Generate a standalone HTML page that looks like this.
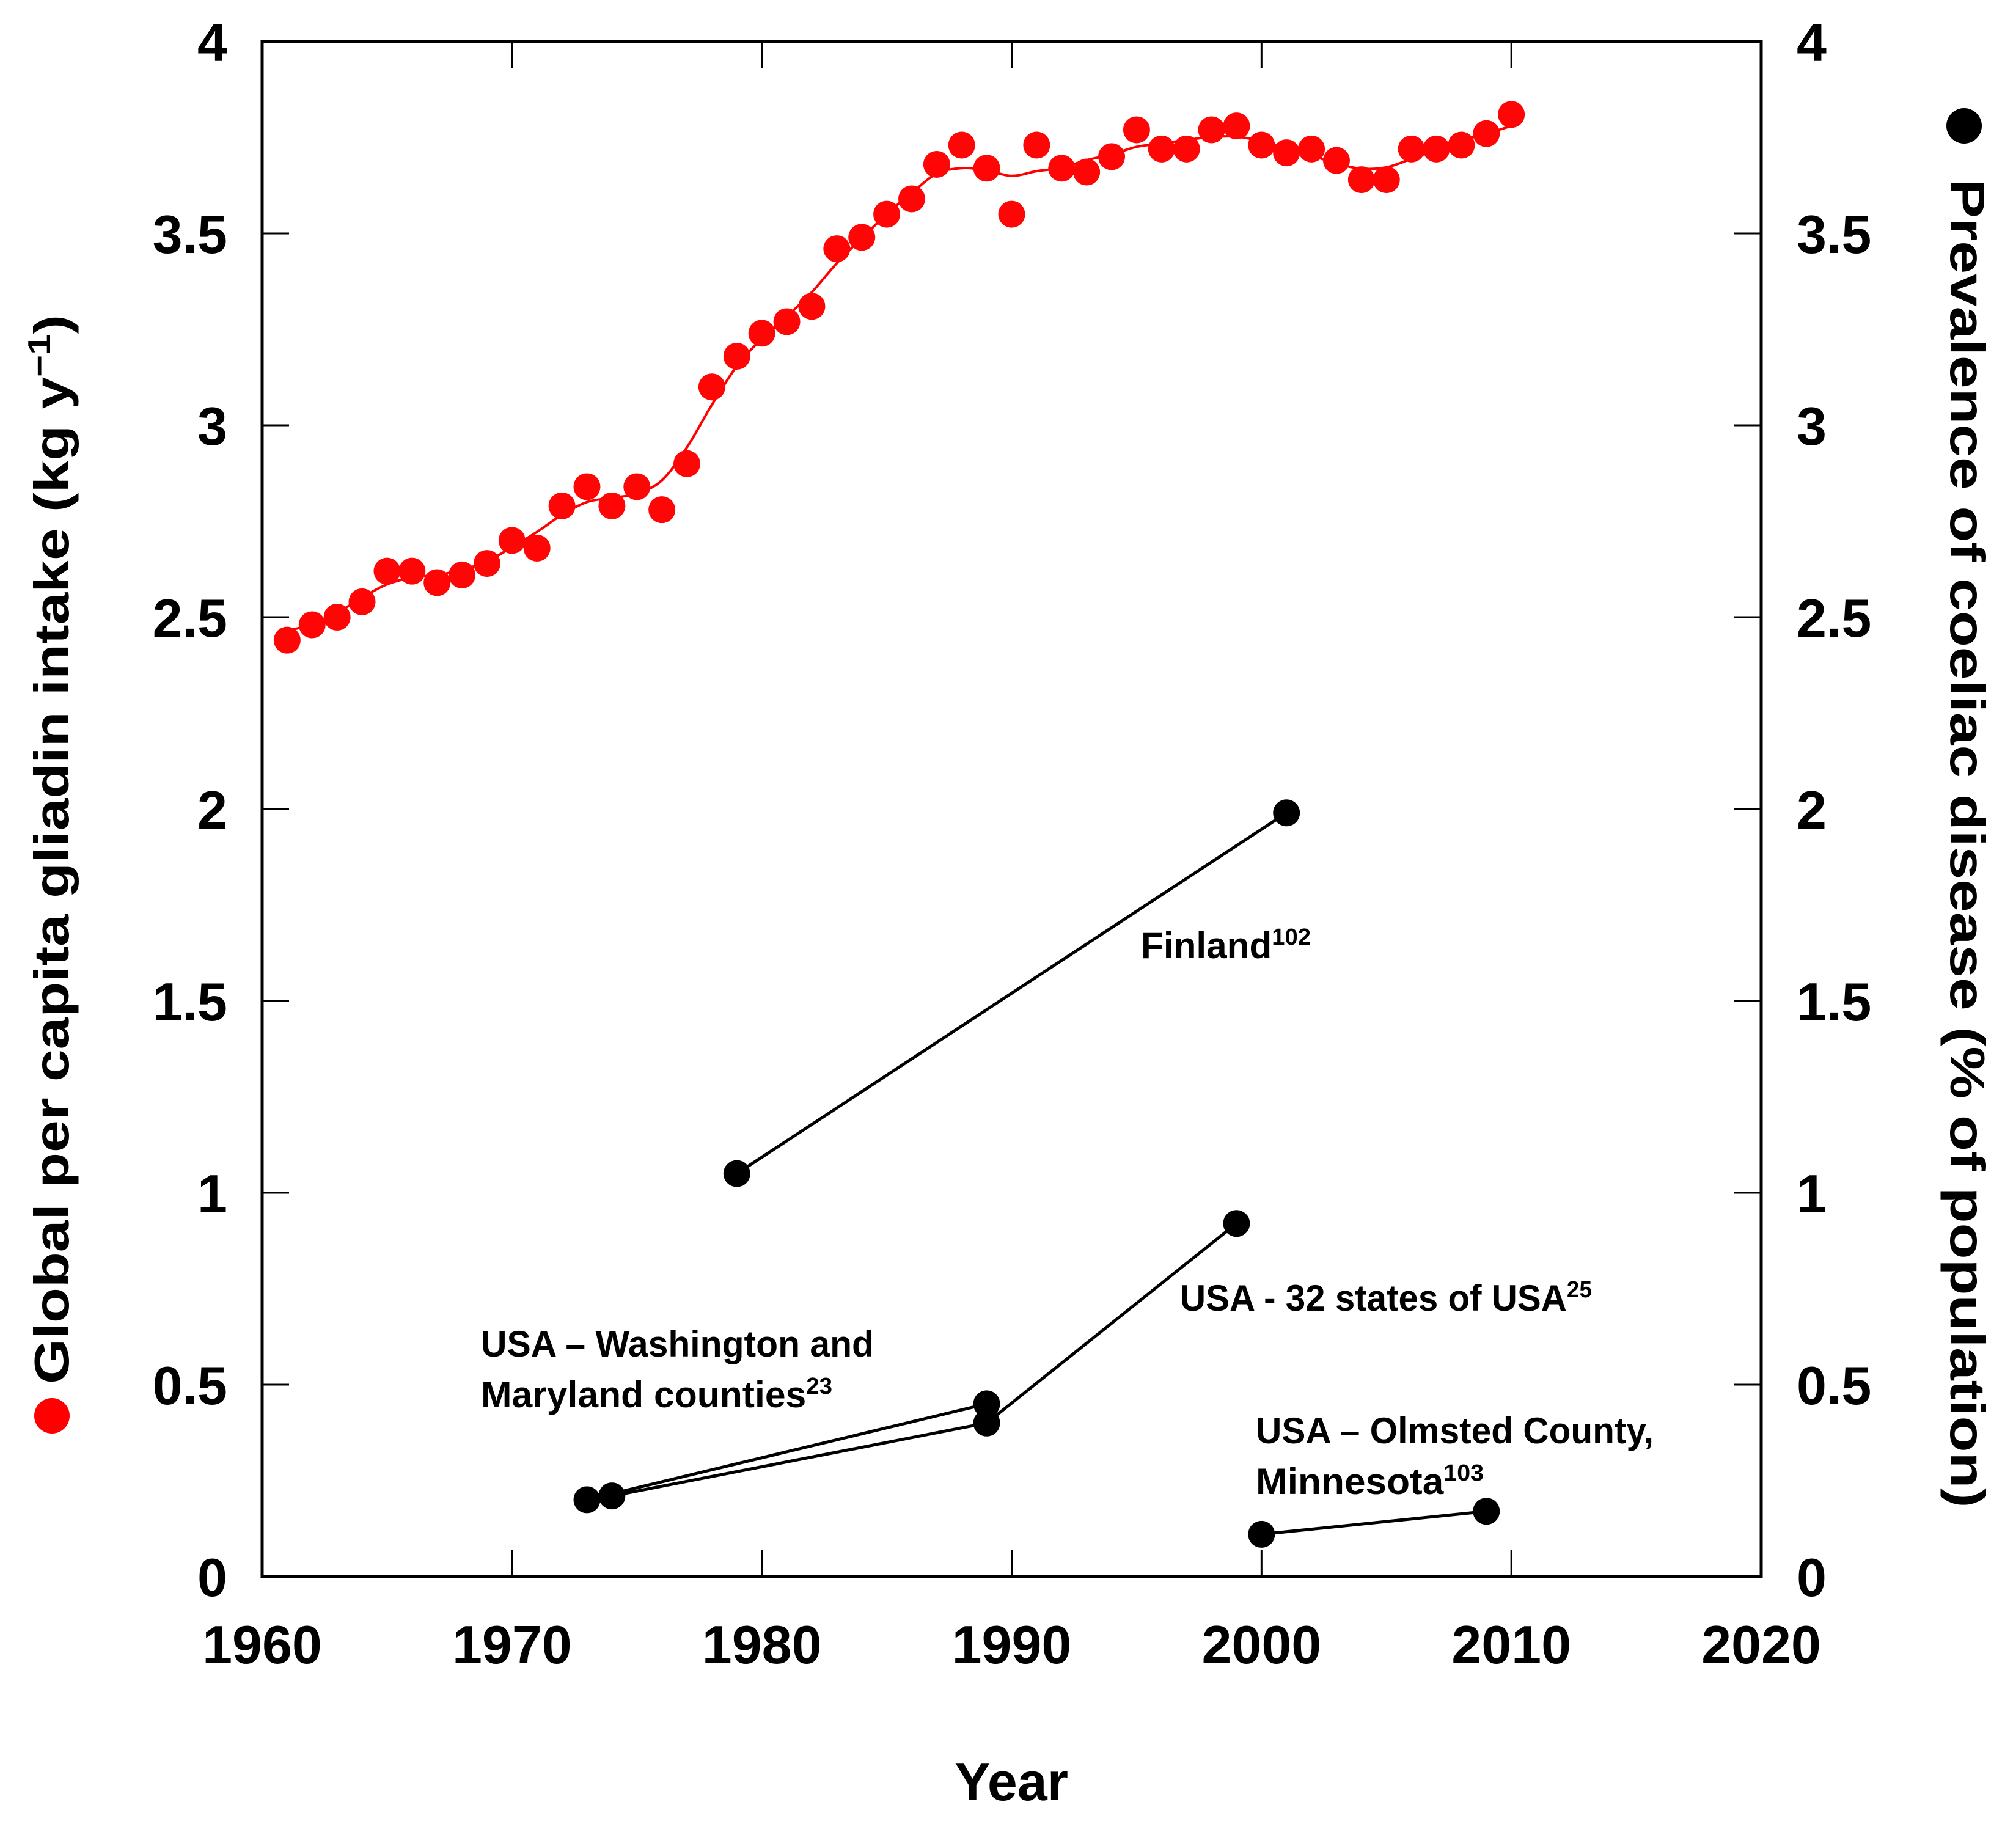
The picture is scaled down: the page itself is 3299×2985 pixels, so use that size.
<!DOCTYPE html>
<html><head><meta charset="utf-8"><style>
html,body{margin:0;padding:0;background:#fff;}
svg{display:block;}
text{font-family:"Liberation Sans",sans-serif;font-weight:bold;fill:#000;}
</style></head><body>
<svg id="chart" width="3299" height="2985" viewBox="0 0 3299 2985" xmlns="http://www.w3.org/2000/svg">
<g id="axes"></g>
<g id="marks"></g>
<g id="notes">
<text x="1867" y="1568" font-size="60" textLength="278" lengthAdjust="spacingAndGlyphs">Finland<tspan font-size="38" dy="-22">102</tspan></text>
<text x="787" y="2220" font-size="60" textLength="643" lengthAdjust="spacingAndGlyphs">USA – Washington and</text>
<text x="787" y="2303" font-size="60" textLength="575" lengthAdjust="spacingAndGlyphs">Maryland counties<tspan font-size="38" dy="-22">23</tspan></text>
<text x="1931" y="2145" font-size="60" textLength="674" lengthAdjust="spacingAndGlyphs">USA - 32 states of USA<tspan font-size="38" dy="-22">25</tspan></text>
<text x="2055" y="2362" font-size="60" textLength="651" lengthAdjust="spacingAndGlyphs">USA – Olmsted County,</text>
<text x="2055" y="2445" font-size="60" textLength="373" lengthAdjust="spacingAndGlyphs">Minnesota<tspan font-size="38" dy="-22">103</tspan></text>
</g>
<text x="1655" y="2946" font-size="88" text-anchor="middle">Year</text>
<text transform="translate(112,1390) rotate(-90)" font-size="80" text-anchor="middle" textLength="1750" lengthAdjust="spacingAndGlyphs">Global per capita gliadin intake (kg y<tspan font-size="52" dy="-30">−1</tspan><tspan dy="30">)</tspan></text>
<circle cx="85" cy="2317" r="29" fill="#ff0000"/>
<text transform="translate(3192,1380) rotate(90)" font-size="80" text-anchor="middle" textLength="2175" lengthAdjust="spacingAndGlyphs">Prevalence of coeliac disease (% of population)</text>
<circle cx="3214" cy="206" r="29" fill="#000"/>
</svg>
<script>
const redYears = [1961,1962,1963,1964,1965,1966,1967,1968,1969,1970,1971,1972,1973,1974,1975,1976,1977,1978,1979,1980,1981,1982,1983,1984,1985,1986,1987,1988,1989,1990,1991,1992,1993,1994,1995,1996,1997,1998,1999,2000,2001,2002,2003,2004,2005,2006,2007,2008,2009,2010];
const redValues = [2.44,2.48,2.50,2.54,2.62,2.62,2.59,2.61,2.64,2.70,2.68,2.79,2.84,2.79,2.84,2.78,2.90,3.10,3.18,3.24,3.27,3.31,3.46,3.49,3.55,3.59,3.68,3.73,3.67,3.55,3.73,3.67,3.66,3.70,3.77,3.72,3.72,3.77,3.78,3.73,3.71,3.72,3.69,3.64,3.64,3.72,3.72,3.73,3.76,3.81];
const finlandYears = [1979,2001];
const finlandValues = [1.05,1.99];
const washA_Years = [1973,1989];
const washA_Values = [0.20,0.45];
const washB_Years = [1974,1989,1999];
const washB_Values = [0.21,0.40,0.92];
const olmstedYears = [2000,2009];
const olmstedValues = [0.11,0.17];
const xTicks = [1960,1970,1980,1990,2000,2010,2020];
const yTicks = [0,0.5,1,1.5,2,2.5,3,3.5,4];
const yTickLabels = ["0","0.5","1","1.5","2","2.5","3","3.5","4"];

const L=429,R=2882,T=68,B=2580;
const xS=v=>L+(v-1960)/60*(R-L);
const yS=v=>B-v/4*(B-T);
const NS="http://www.w3.org/2000/svg";
function mk(tag,parent){const e=document.createElementNS(NS,tag);parent.appendChild(e);return e;}
const axes=document.getElementById('axes'), marks=document.getElementById('marks');

const frame=mk('rect',axes);


frame.setAttribute('x',L);frame.setAttribute('y',T);frame.setAttribute('width',R-L);frame.setAttribute('height',B-T);
frame.setAttribute('fill','none');frame.setAttribute('stroke','#000');frame.setAttribute('stroke-width','5');

xTicks.forEach((t,i)=>{
  const x=xS(t);
  [[B,B-44],[T,T+44]].forEach(p=>{
    const ln=mk('line',axes);
    
    
    ln.setAttribute('x1',x);ln.setAttribute('x2',x);ln.setAttribute('y1',p[0]);ln.setAttribute('y2',p[1]);
    ln.setAttribute('stroke','#000');ln.setAttribute('stroke-width','3');
  });
  const tx=mk('text',axes);
  
  
  tx.setAttribute('x',x);tx.setAttribute('y',2722);tx.setAttribute('font-size','88');tx.setAttribute('text-anchor','middle');
  tx.textContent=String(t);
});
yTicks.forEach((t,i)=>{
  const y=yS(t);
  [[L,L+44],[R,R-44]].forEach(p=>{
    const ln=mk('line',axes);
    
    
    ln.setAttribute('x1',p[0]);ln.setAttribute('x2',p[1]);ln.setAttribute('y1',y);ln.setAttribute('y2',y);
    ln.setAttribute('stroke','#000');ln.setAttribute('stroke-width','3');
  });
  const a=mk('text',axes);
  
  
  a.setAttribute('x',372);a.setAttribute('y',y+32);a.setAttribute('font-size','88');a.setAttribute('text-anchor','end');
  a.textContent=yTickLabels[i];
  const b=mk('text',axes);
  
  
  b.setAttribute('x',2940);b.setAttribute('y',y+32);b.setAttribute('font-size','88');b.setAttribute('text-anchor','start');
  b.textContent=yTickLabels[i];
});

const w=[1,2,3,2,1];
const sm=redValues.map((v,i)=>{let s=0,ws=0;for(let k=-2;k<=2;k++){const j=i+k;if(j>=0&&j<redValues.length){s+=redValues[j]*w[k+2];ws+=w[k+2];}}return s/ws;});
const pts=redYears.map((yr,i)=>[xS(yr),yS(sm[i])]);
let d='M'+pts[0][0]+','+pts[0][1];
for(let i=0;i<pts.length-1;i++){
  const p0=pts[Math.max(0,i-1)],p1=pts[i],p2=pts[i+1],p3=pts[Math.min(pts.length-1,i+2)];
  d+=' C'+(p1[0]+(p2[0]-p0[0])/6)+','+(p1[1]+(p2[1]-p0[1])/6)+' '+(p2[0]-(p3[0]-p1[0])/6)+','+(p2[1]-(p3[1]-p1[1])/6)+' '+p2[0]+','+p2[1];
}
const trend=mk('path',marks);


trend.setAttribute('d',d);trend.setAttribute('fill','none');trend.setAttribute('stroke','#ff0000');trend.setAttribute('stroke-width','4');

redYears.forEach((yr,i)=>{
  const c=mk('circle',marks);
  
  
  c.setAttribute('cx',xS(yr));c.setAttribute('cy',yS(redValues[i]));c.setAttribute('r','22');c.setAttribute('fill','#ff0505');
});

function series(name,xs,vs){
  const pl=mk('polyline',marks);
  
  
  pl.setAttribute('points',xs.map((x,i)=>xS(x)+','+yS(vs[i])).join(' '));
  pl.setAttribute('fill','none');pl.setAttribute('stroke','#000');pl.setAttribute('stroke-width','5');
  xs.forEach((x,i)=>{
    const c=mk('circle',marks);
    
    
    c.setAttribute('cx',xS(x));c.setAttribute('cy',yS(vs[i]));c.setAttribute('r','22');c.setAttribute('fill','#000');
  });
}
series('finland',finlandYears,finlandValues);
series('washington-a',washA_Years,washA_Values);
series('washington-b',washB_Years,washB_Values);
series('olmsted',olmstedYears,olmstedValues);
</script>
</body></html>
